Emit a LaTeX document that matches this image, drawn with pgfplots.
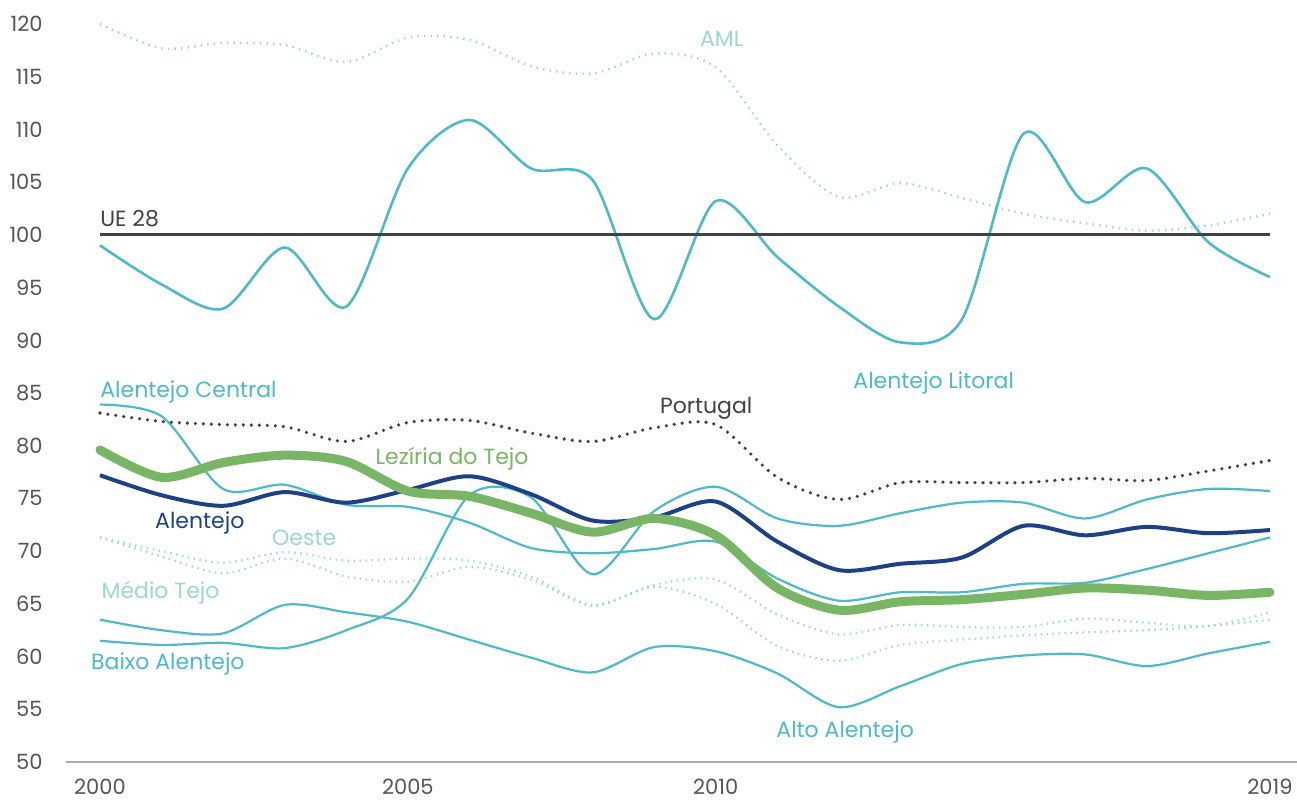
\documentclass[border=0pt]{standalone}
\usepackage{fontspec}
\setmainfont{Poppins}
\usepackage{pgfplots}
\pgfplotsset{compat=1.18}
\definecolor{teal1}{HTML}{4DB9C9}
\definecolor{lteal}{HTML}{9AD8CE}
\definecolor{navy}{HTML}{1E4185}
\definecolor{lgreen}{HTML}{78B564}
\definecolor{dgray}{HTML}{424242}
\definecolor{tgray}{HTML}{555555}
\tikzset{lbl/.style={anchor=base west, inner sep=0pt, font=\fontsize{11pt}{14pt}\selectfont}}
\begin{document}
\begin{tikzpicture}
\begin{axis}[
  name=ax,
  scale only axis,
  width=615.5pt, height=369pt,
  xmin=1999.448, xmax=2019.44,
  ymin=50, ymax=120,
  axis x line*=bottom, axis y line*=left,
  x axis line style={draw=black!33, line width=0.9pt, -},
  y axis line style={draw=none},
  major tick length=0pt,
  xtick={2000,2005,2010,2019},
  ytick={50,55,...,120},
  /pgf/number format/assume math mode=true,
  xticklabel={\pgfmathprintnumber[1000 sep={}]{\tick}},
  xticklabel style={anchor=north, yshift=-8.5pt, inner sep=0pt, font=\fontsize{10.5pt}{12pt}\selectfont, text=tgray},
  yticklabel style={anchor=east, xshift=-11.5pt, inner sep=0pt, font=\fontsize{10.5pt}{12pt}\selectfont, text=tgray},
  clip=false,
  every axis plot/.append style={smooth, tension=0.5, no marks},
]
% Oeste
\addplot[lteal, line width=1.1pt, dash pattern=on 0.7pt off 2.3pt] coordinates {(2000,71.3)(2001,70.0)(2002,68.9)(2003,69.9)(2004,69.1)(2005,69.3)(2006,69.1)(2007,67.6)(2008,64.9)(2009,66.8)(2010,67.3)(2011,64.0)(2012,62.1)(2013,63.0)(2014,62.8)(2015,62.8)(2016,63.6)(2017,63.2)(2018,62.9)(2019,64.2)};
% Medio Tejo
\addplot[lteal, line width=1.1pt, dash pattern=on 0.7pt off 2.3pt] coordinates {(2000,71.3)(2001,69.5)(2002,67.9)(2003,69.3)(2004,67.6)(2005,67.1)(2006,68.5)(2007,67.3)(2008,64.8)(2009,66.6)(2010,65.0)(2011,61.0)(2012,59.6)(2013,61.1)(2014,61.6)(2015,62.0)(2016,62.3)(2017,62.5)(2018,62.9)(2019,63.5)};
% AML
\addplot[lteal, line width=1.2pt, dash pattern=on 0.7pt off 2.6pt] coordinates {(2000,120.0)(2001,117.7)(2002,118.2)(2003,118.0)(2004,116.4)(2005,118.7)(2006,118.5)(2007,116.0)(2008,115.3)(2009,117.2)(2010,115.9)(2011,108.5)(2012,103.6)(2013,104.9)(2014,103.5)(2015,102.0)(2016,101.1)(2017,100.4)(2018,100.9)(2019,102.0)};
% Alto Alentejo
\addplot[teal1, line width=1.1pt] coordinates {(2000,63.5)(2001,62.5)(2002,62.2)(2003,64.9)(2004,64.2)(2005,63.3)(2006,61.6)(2007,59.9)(2008,58.5)(2009,60.9)(2010,60.5)(2011,58.4)(2012,55.2)(2013,57.2)(2014,59.3)(2015,60.1)(2016,60.2)(2017,59.1)(2018,60.3)(2019,61.4)};
% Baixo Alentejo
\addplot[teal1, line width=1.1pt] coordinates {(2000,61.5)(2001,61.1)(2002,61.3)(2003,60.8)(2004,62.5)(2005,65.5)(2006,75.3)(2007,75.1)(2008,67.8)(2009,73.8)(2010,76.1)(2011,73.1)(2012,72.4)(2013,73.6)(2014,74.6)(2015,74.6)(2016,73.1)(2017,74.9)(2018,75.9)(2019,75.7)};
% Alentejo Central
\addplot[teal1, line width=1.1pt] coordinates {(2000,83.9)(2001,82.8)(2002,75.9)(2003,76.3)(2004,74.4)(2005,74.2)(2006,72.7)(2007,70.3)(2008,69.8)(2009,70.2)(2010,70.9)(2011,67.4)(2012,65.3)(2013,66.1)(2014,66.1)(2015,66.9)(2016,67.0)(2017,68.3)(2018,69.8)(2019,71.3)};
% Alentejo Litoral
\addplot[teal1, line width=1.3pt] coordinates {(2000,99.0)(2001,95.3)(2002,93.0)(2003,98.8)(2004,93.2)(2005,106.3)(2006,110.9)(2007,106.3)(2008,105.2)(2009,92.0)(2010,103.2)(2011,97.9)(2012,93.2)(2013,89.8)(2014,92.0)(2015,109.6)(2016,103.1)(2017,106.3)(2018,99.3)(2019,96.0)};
% Portugal
\addplot[dgray, line width=1.8pt, line cap=round, dash pattern=on 0pt off 4pt] coordinates {(2000,83.1)(2001,82.3)(2002,82.0)(2003,81.8)(2004,80.4)(2005,82.2)(2006,82.4)(2007,81.2)(2008,80.4)(2009,81.7)(2010,82.0)(2011,77.0)(2012,74.9)(2013,76.5)(2014,76.5)(2015,76.5)(2016,76.9)(2017,76.7)(2018,77.6)(2019,78.6)};
% UE 28
\addplot[dgray, line width=1.5pt, sharp plot] coordinates {(2000,100)(2019,100)};
% Alentejo
\addplot[navy, line width=2pt] coordinates {(2000,77.2)(2001,75.3)(2002,74.3)(2003,75.6)(2004,74.6)(2005,75.8)(2006,77.1)(2007,75.4)(2008,72.9)(2009,73.2)(2010,74.7)(2011,70.9)(2012,68.2)(2013,68.8)(2014,69.4)(2015,72.4)(2016,71.5)(2017,72.3)(2018,71.7)(2019,72.0)};
% Leziria do Tejo
\addplot[lgreen, line width=4.5pt, line cap=round] coordinates {(2000,79.6)(2001,77.0)(2002,78.4)(2003,79.1)(2004,78.5)(2005,75.7)(2006,75.2)(2007,73.6)(2008,71.8)(2009,73.1)(2010,71.5)(2011,66.5)(2012,64.4)(2013,65.2)(2014,65.4)(2015,65.9)(2016,66.5)(2017,66.3)(2018,65.8)(2019,66.1)};

\node[lbl, text=dgray] at (axis cs:2000,100.75) {UE 28};
\node[lbl, text=lteal] at (axis cs:2009.74,117.82) {AML};
\node[lbl, text=teal1] at (axis cs:2000,84.53) {Alentejo Central};
\node[lbl, text=dgray] at (axis cs:2009.09,83.10) {Portugal};
\node[lbl, text=lgreen] at (axis cs:2004.47,78.17) {Lezíria do Tejo};
\node[lbl, text=teal1] at (axis cs:2012.23,85.38) {Alentejo Litoral};
\node[lbl, text=navy] at (axis cs:2000.89,72.19) {Alentejo};
\node[lbl, text=lteal] at (axis cs:2002.79,70.49) {Oeste};
\node[lbl, text=lteal] at (axis cs:2000.02,65.46) {Médio Tejo};
\node[lbl, text=teal1] at (axis cs:1999.85,58.73) {Baixo Alentejo};
\node[lbl, text=teal1] at (axis cs:2010.98,52.28) {Alto Alentejo};
\end{axis}
\pgfresetboundingbox
\path ([shift={(-33pt,-21pt)}]ax.south west) rectangle ([shift={(0pt,12pt)}]ax.north east);
\end{tikzpicture}
\end{document}
